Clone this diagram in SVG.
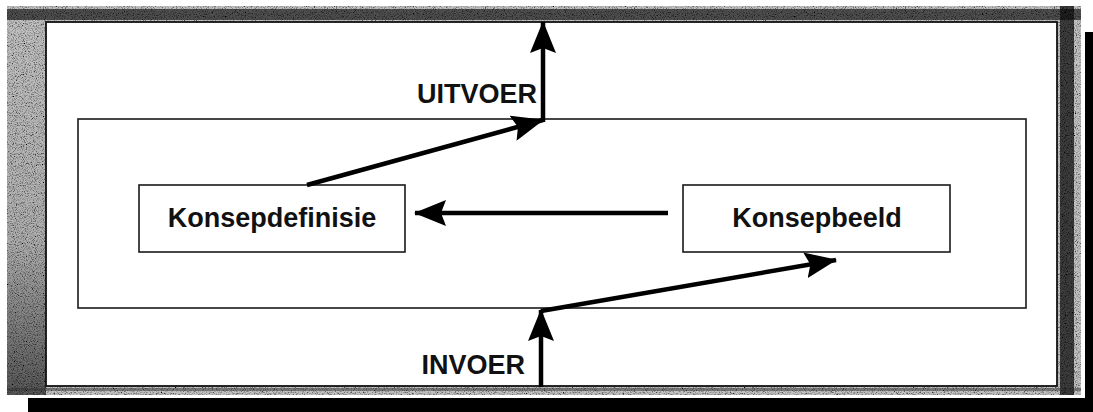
<svg xmlns="http://www.w3.org/2000/svg" width="1093" height="412" viewBox="0 0 1093 412">
  <style>
    .box { fill: #ffffff; stroke: #1a1a1a; stroke-width: 1.6; }
    .label { font-family: "Liberation Sans", Arial, sans-serif; font-weight: bold; font-size: 27px; fill: #111111; }
    .flow { fill: none; stroke: #000000; stroke-width: 4.5; stroke-linecap: butt; }
  </style>
  <defs>
    <marker id="head" viewBox="0 0 32 26" refX="31" refY="13" markerWidth="32" markerHeight="26" markerUnits="userSpaceOnUse" orient="auto">
      <path d="M0,0 L32,13 L0,26 L5,13 Z" fill="#000000"/>
    </marker>
    <!-- speckled grain for the frame -->
    <filter id="grain" x="0" y="0" width="100%" height="100%">
      <feTurbulence type="fractalNoise" baseFrequency="0.9" numOctaves="2" seed="7" result="noise"/>
      <feColorMatrix in="noise" type="matrix" values="0 0 0 0 0  0 0 0 0 0  0 0 0 0 0  2.6 0 0 0 -1.15" result="dots"/>
      <feComposite in="dots" in2="SourceGraphic" operator="in" result="speckle"/>
      <feMerge>
        <feMergeNode in="SourceGraphic"/>
        <feMergeNode in="speckle"/>
      </feMerge>
    </filter>
    <linearGradient id="leftShade" x1="0" y1="0" x2="0" y2="1">
      <stop offset="0" stop-color="#000" stop-opacity="0"/>
      <stop offset="0.6" stop-color="#000" stop-opacity="0.1"/>
      <stop offset="1" stop-color="#000" stop-opacity="0.55"/>
    </linearGradient>
    <clipPath id="frameClip">
      <path d="M7,6 H1081 V395 H7 Z M46,22 V386 H1057 V22 Z" clip-rule="evenodd"/>
    </clipPath>
  </defs>

  <!-- drop shadow -->
  <g id="shadow" fill="#000000">
    <rect x="1085" y="32" width="8" height="380"/>
    <rect x="28" y="398" width="1065" height="14"/>
  </g>

  <!-- textured frame -->
  <g id="frame">
    <g clip-path="url(#frameClip)" filter="url(#grain)">
      <rect x="7" y="6" width="1074" height="389" fill="#c2c2c2"/>
      <rect x="7" y="9" width="1074" height="11" fill="#1e1e1e" opacity="0.7"/>
      <rect x="7" y="6" width="39" height="389" fill="url(#leftShade)"/>
      <rect x="1060" y="6" width="14" height="389" fill="#111111" opacity="0.75"/>
      <rect x="7" y="388" width="1074" height="3" fill="#333333" opacity="0.5"/>
    </g>
    <rect x="46" y="22" width="1011" height="364" fill="#ffffff" stroke="#111111" stroke-width="1.8"/>
  </g>

  <!-- system boundary -->
  <g id="container">
    <rect class="box" x="78" y="119" width="948" height="189"/>
  </g>

  <g id="node-konsepdefinisie">
    <rect class="box" x="139" y="185" width="266" height="67"/>
    <text class="label" x="272" y="227" text-anchor="middle">Konsepdefinisie</text>
  </g>

  <g id="node-konsepbeeld">
    <rect class="box" x="683" y="185" width="267" height="67"/>
    <text class="label" x="817" y="227" text-anchor="middle">Konsepbeeld</text>
  </g>

  <g id="connectors">
    <!-- output: concept definition leaves the system -->
    <line class="flow" x1="307" y1="185" x2="543" y2="120" marker-end="url(#head)"/>
    <line class="flow" x1="543" y1="122" x2="543" y2="22" marker-end="url(#head)"/>
    <!-- concept image to concept definition -->
    <line class="flow" x1="668" y1="213" x2="415" y2="213" marker-end="url(#head)"/>
    <!-- input enters the system -->
    <line class="flow" x1="541" y1="387" x2="541" y2="310" marker-end="url(#head)"/>
    <line class="flow" x1="541" y1="311" x2="836" y2="260" marker-end="url(#head)"/>
  </g>

  <g id="label-uitvoer">
    <text class="label" x="537" y="103" text-anchor="end">UITVOER</text>
  </g>
  <g id="label-invoer">
    <text class="label" x="525" y="374" text-anchor="end">INVOER</text>
  </g>
</svg>
